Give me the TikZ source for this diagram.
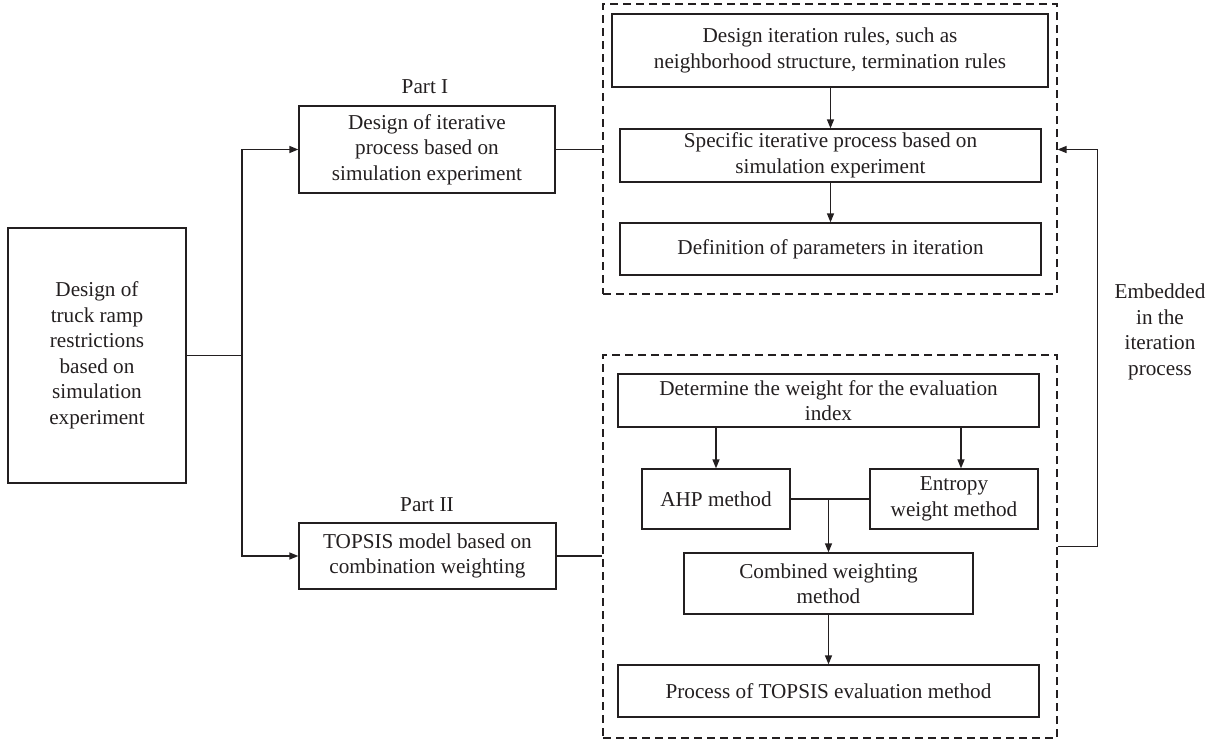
\documentclass[tikz,border=0pt]{standalone}
\usepackage{fontspec}
\setmainfont{Liberation Serif}
\usetikzlibrary{arrows.meta}
\definecolor{ink}{HTML}{231F20}
\begin{document}
\begin{tikzpicture}[x=1pt,y=-1pt,
  every node/.style={font=\fontsize{21.2}{25.5}\selectfont, text=ink},
  box/.style={draw=ink, line width=1.3pt, rectangle, inner sep=0pt, align=center},
  dbox/.style={draw=ink, line width=1.1pt, dash pattern=on 8pt off 5pt, rectangle, inner sep=0pt},
  ln/.style={draw=ink, line width=1.3pt},
  arr/.style={ln, -{Triangle[length=9pt,width=7pt]}},
  lbl/.style={inner sep=0pt, align=center}]
\useasboundingbox (0,0) rectangle (1216,742);

% dashed groups
\node[dbox, minimum width=454pt, minimum height=290pt] (g1) at (830,149) {};
\node[dbox, minimum width=454pt, minimum height=383pt] (g2) at (830,546.5) {};

% left
\node[box, minimum width=178pt, minimum height=255pt] (root) at (97,355.5)
  {Design of\\truck ramp\\restrictions\\based on\\simulation\\experiment};

% parts
\node[box, minimum width=256pt, minimum height=87pt] (p1) at (427,149.5)
  {Design of iterative\\process based on\\simulation experiment};
\node[box, minimum width=257pt, minimum height=66pt] (p2) at (427.5,556)
  {TOPSIS model based on\\combination weighting};
\node[lbl] (l1) at (425,87) {Part I};
\node[lbl] (l2) at (427,505) {Part II};

% group 1
\node[box, minimum width=436pt, minimum height=73pt] (b1) at (830,50.5)
  {Design iteration rules, such as\\neighborhood structure, termination rules};
\node[box, minimum width=421pt, minimum height=53pt] (b2) at (830.5,155.5)
  {Specific iterative process based on\\simulation experiment};
\node[box, minimum width=421pt, minimum height=52pt] (b3) at (830.5,249)
  {Definition of parameters in iteration};

% group 2
\node[box, minimum width=421pt, minimum height=53pt] (d1) at (828.5,400.5)
  {Determine the weight for the evaluation\\index};
\node[box, minimum width=148pt, minimum height=60pt] (ahp) at (716,499)
  {AHP method};
\node[box, minimum width=168pt, minimum height=60pt] (ent) at (954,499)
  {Entropy\\weight method};
\node[box, minimum width=289pt, minimum height=61pt] (comb) at (828.5,583.5)
  {Combined weighting\\method};
\node[box, minimum width=421pt, minimum height=52pt] (proc) at (828.5,691)
  {Process of TOPSIS evaluation method};

\node[lbl] (emb) at (1160,332) {Embedded\\in the\\iteration\\process};

% connectors
\coordinate (j) at (242,355.5);
\draw[ln] (root.east) -- (j);
\draw[arr] (j) |- (p1.west);
\draw[arr] (j) |- (p2.west);
\draw[ln] (p1.east) -- (p1.east -| g1.west);
\draw[ln] (p2.east) -- (p2.east -| g2.west);

\draw[arr] (b1.south -| b2.north) -- (b2.north);
\draw[arr] (b2.south) -- (b3.north);

\draw[arr] (ahp.north |- d1.south) -- (ahp.north);
\draw[arr] ([xshift=7pt]ent.north |- d1.south) -- ([xshift=7pt]ent.north);
\draw[ln] (ahp.east) -- (ent.west);
\draw[arr] (comb.north |- ahp.east) -- (comb.north);
\draw[arr] (comb.south) -- (proc.north);

\draw[arr] (g2.east) -- ++(40,0) |- (g1.east |- p1.east);
\end{tikzpicture}
\end{document}
